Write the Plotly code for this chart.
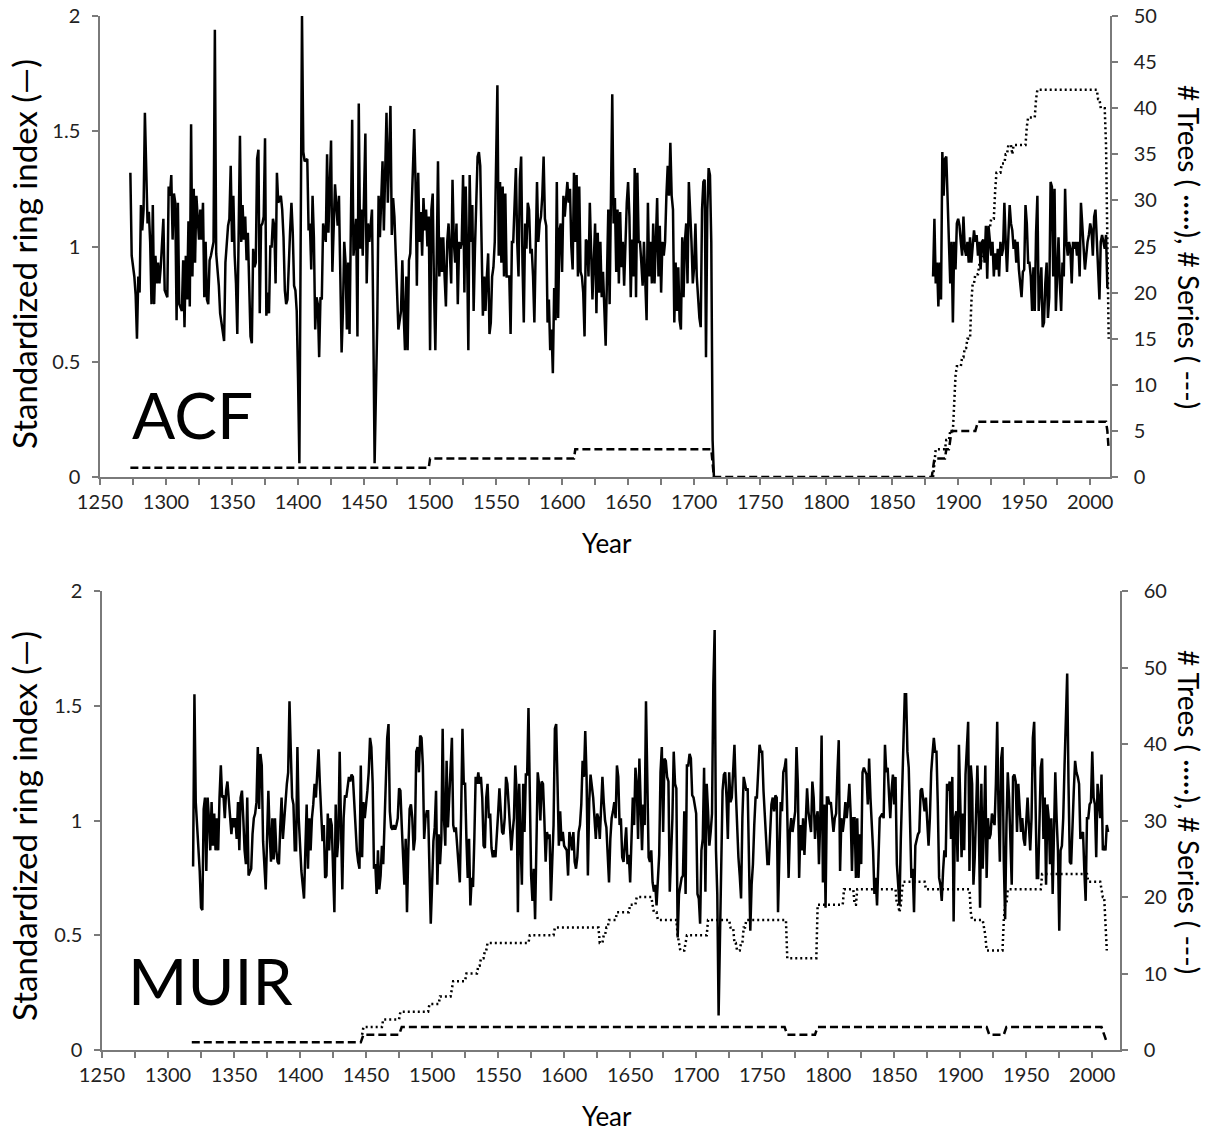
import plotly.graph_objects as go

# ---------------- ACF ring index ----------------
acf_years_a = [1273,1274,1276,1277,1278,1279,1280,1281,1282,1283,
               1284,1286,1287,1288,1289,1290,1291,1292,1293,1294,
               1295,1296,1298,1299,1301,1302,1303,1304,1305,1306,
               1307,1308,1309,1310,1312,1313,1314,1315,1316,1317,
               1318,1319,1320,1321,1322,1323,1325,1326,1327,1328,
               1329,1330,1331,1332,1333,1334,1336,1337,1338,1340,
               1341,1343,1344,1345,1347,1348,1349,1350,1351,1352,
               1353,1354,1355,1356,1357,1358,1359,1360,1361,1362,
               1364,1365,1366,1367,1368,1369,1370,1371,1372,1373,
               1374,1375,1376,1377,1378,1379,1380,1381,1382,1383,
               1384,1385,1387,1388,1389,1390,1391,1392,1394,1395,
               1396,1397,1398,1399,1400,1401,1403,1404,1405,1407,
               1408,1409,1410,1411,1412,1413,1414,1415,1416,1417]
acf_index_a = [1.32,0.96,0.87,0.79,0.60,0.87,0.80,1.18,1.07,1.16,
               1.58,1.10,1.15,1.02,0.75,1.18,0.75,0.96,0.84,0.93,
               0.84,0.91,1.12,0.81,0.78,1.26,1.22,1.31,1.03,1.23,
               1.19,0.68,1.19,0.75,0.72,0.94,0.65,0.96,0.77,1.11,
               0.74,1.53,0.87,1.25,0.93,1.22,1.03,1.16,1.03,1.19,
               0.78,1.02,0.77,0.75,0.94,0.96,1.02,1.94,0.97,0.83,
               0.71,0.64,0.59,0.93,1.09,1.12,1.35,1.02,1.22,0.96,
               0.84,0.62,1.22,1.48,1.02,1.18,1.03,1.13,0.94,1.06,
               0.61,0.58,0.99,0.91,0.93,1.38,1.42,0.71,1.09,1.10,
               1.13,1.47,0.70,0.80,0.71,1.00,1.00,1.12,1.09,0.84,
               1.32,1.19,1.22,1.16,1.04,0.81,0.75,0.77,1.07,1.19,
               1.06,0.83,0.81,0.72,0.43,0.06,2.00,1.41,1.37,1.38,
               1.07,1.10,0.90,1.22,1.04,0.64,0.78,0.75,0.52,0.78]

acf_years_b = [1418,1419,1421,1422,1423,1424,1425,1426,1427,1428,
               1430,1431,1433,1434,1435,1436,1437,1438,1439,1441,
               1442,1444,1445,1446,1447,1448,1449,1451,1452,1453,
               1454,1456,1457,1458,1460,1461,1462,1464,1465,1466,
               1467,1468,1470,1471,1472,1473,1474,1475,1476,1478,
               1479,1480,1481,1482,1483,1484,1485,1486,1488,1489,
               1490,1491,1492,1493,1494,1495,1496,1497,1498,1499,
               1500,1501,1502,1503,1504,1505,1506,1507,1508,1509,
               1510,1511,1512,1513,1514,1516,1517,1518,1519,1520,
               1521,1522,1523,1524,1525,1526,1527,1528,1529,1530,
               1531,1532,1533,1534,1535,1536,1537,1538,1539,1540,
               1541,1542,1543,1544,1545,1546,1547,1548,1549,1550,
               1551,1552,1553,1554,1555,1556,1557,1558,1560,1561,
               1562,1563,1564,1565,1566]
acf_index_b = [0.77,1.10,1.02,1.40,1.06,1.22,1.46,0.89,1.07,1.27,
               1.09,1.22,0.54,0.72,1.02,0.93,0.64,0.93,0.62,1.55,
               0.96,1.12,0.61,1.62,0.99,1.16,0.96,1.49,0.84,1.10,
               1.02,1.16,0.67,0.06,0.67,1.22,1.04,1.37,1.07,1.34,
               1.58,1.19,1.61,1.05,1.21,1.13,0.97,0.78,0.64,0.72,
               0.94,0.71,0.55,0.87,0.55,0.94,0.97,1.16,1.51,1.28,
               0.83,1.32,1.02,1.15,0.96,1.21,1.07,1.16,1.00,1.13,
               0.55,1.16,1.23,0.81,0.55,0.93,1.37,0.87,1.04,0.89,
               1.04,0.87,0.74,1.02,1.10,0.84,1.29,1.02,0.93,1.10,
               0.75,1.02,0.99,1.02,1.31,0.80,1.26,0.99,0.55,1.31,
               1.02,1.18,0.72,0.99,1.18,1.39,1.41,1.35,1.02,0.70,
               0.87,0.72,0.87,0.97,0.62,0.67,0.87,0.91,1.02,1.42,
               1.70,0.96,1.28,0.93,1.26,0.87,1.23,0.87,0.87,0.62,
               1.02,1.02,1.22,1.34,1.02]

acf_years_c = list(range(1567, 1624)) + list(range(1625, 1697)) + list(range(1698, 1716))
acf_index_c = [0.87,1.29,1.39,0.93,0.67,1.10,0.99,1.19,1.16,0.97,
               0.99,0.87,0.67,0.99,1.28,1.02,1.10,1.13,1.22,1.39,
               1.12,1.09,0.67,0.77,0.55,0.64,0.45,0.82,0.68,1.28,
               0.69,1.07,1.10,0.89,1.22,1.13,1.22,1.28,1.19,1.25,
               1.00,0.90,1.32,1.02,1.31,0.87,1.26,0.89,0.87,0.80,
               0.61,1.03,1.02,0.87,1.19,0.99,0.77,1.10,0.71,1.06,
               0.80,1.02,0.78,0.89,0.75,0.57,0.87,1.16,0.75,1.16,
               1.66,1.10,1.21,0.89,1.16,0.84,1.15,0.91,1.02,0.83,
               1.03,1.19,1.28,1.13,0.78,1.03,0.87,1.34,0.78,1.32,
               1.02,1.02,0.93,0.83,1.02,0.84,0.68,1.19,0.87,1.02,
               0.84,1.10,0.84,1.02,1.21,0.87,1.09,0.80,1.02,0.96,
               1.02,1.22,1.35,1.22,1.45,1.22,1.16,0.67,0.93,0.72,
               0.91,0.68,0.64,1.04,0.78,1.02,1.10,0.84,1.28,1.02,
               0.84,0.91,1.10,0.87,0.75,0.69,0.65,1.16,1.28,1.29,
               0.52,1.16,1.34,1.31,1.02,0.16,0.00]

acf_years_d = list(range(1881, 1924)) + list(range(1925, 1997)) + list(range(1998, 2014))
acf_index_d = [0.87,1.12,0.84,0.93,0.74,0.93,0.77,1.41,1.22,1.38,
               1.39,1.16,1.02,0.84,1.02,0.67,1.02,0.90,1.10,1.12,
               1.09,1.02,0.96,1.13,0.99,0.96,1.02,0.93,1.04,0.93,
               1.02,1.07,1.02,1.05,0.96,1.02,0.90,1.02,1.03,0.93,
               1.09,0.86,1.09,0.96,1.02,0.87,0.97,0.90,0.99,0.87,
               1.02,0.96,0.99,1.19,1.02,0.89,1.04,1.18,1.10,1.07,
               0.99,1.03,0.93,1.02,0.90,0.84,0.78,0.89,0.90,1.18,
               1.10,0.93,0.93,0.87,0.72,0.91,0.72,1.06,1.22,0.72,
               0.80,0.91,0.65,0.67,0.84,0.93,0.69,0.78,1.28,1.26,
               0.87,1.25,0.72,0.90,1.04,0.84,0.72,0.93,0.87,1.25,
               1.02,0.96,1.02,0.99,0.84,1.02,0.99,1.02,0.96,1.02,
               0.87,1.19,1.10,0.99,0.90,1.02,1.05,1.10,1.07,0.96,
               1.13,1.16,1.02,0.93,0.77,1.02,1.05,1.02,0.99,1.05,
               0.82]

# (first year, last year, count)
acf_series_runs = [(1273,1499,1),(1500,1609,2),(1610,1713,3),(1715,1880,0),
                   (1882,1890,2),(1891,1893,3),(1894,1894,4),(1895,1913,5),
                   (1915,2012,6),(2013,2013,5),(2014,2014,3)]
acf_tree_runs = [(1881,1881,0),(1882,1882,2),(1883,1890,3),(1891,1893,4),(1894,1896,5),
                 (1897,1897,8),(1898,1898,11),(1899,1902,12),(1903,1904,13),(1905,1906,14),
                 (1907,1909,15),(1910,1910,19),(1911,1912,21),(1913,1915,22),(1916,1917,23),
                 (1918,1919,24),(1920,1921,25),(1922,1922,26),(1923,1924,27),(1925,1927,28),
                 (1928,1928,31),(1929,1932,33),(1933,1935,34),(1936,1937,35),(1938,1940,36),
                 (1941,1941,35),(1942,1951,36),(1952,1952,38),(1953,1958,39),(1959,1959,41),
                 (1960,2005,42),(2006,2007,41),(2008,2011,40),(2012,2012,36),(2013,2013,25),
                 (2014,2014,15)]

# ---------------- MUIR ring index ----------------
muir_years_a = list(range(1319, 1362)) + list(range(1363, 1450)) + list(range(1451, 1493))
muir_index_a = [0.80,1.55,1.08,0.99,0.87,0.78,0.62,0.61,1.05,1.10,
                0.78,1.10,1.01,0.87,1.08,0.89,1.03,0.87,1.01,0.87,
                1.10,1.24,1.10,1.11,1.01,1.13,1.17,1.10,1.03,0.94,
                1.01,0.97,1.01,0.92,1.08,0.87,1.10,1.13,1.01,0.87,
                0.81,1.10,0.76,0.79,0.94,1.01,1.03,1.08,1.32,1.05,
                1.29,1.24,0.91,0.79,0.70,0.92,1.13,0.94,0.82,1.01,
                0.83,1.01,0.87,0.82,0.81,0.97,1.10,0.92,1.01,1.08,
                1.16,1.21,1.52,1.30,1.10,1.07,0.87,0.87,1.32,1.01,
                0.85,0.78,0.72,0.66,0.87,1.07,0.79,1.01,0.87,1.01,
                1.07,1.16,1.10,1.19,1.31,1.16,1.01,0.91,0.98,0.75,
                0.76,1.03,0.87,1.01,0.98,0.82,0.60,1.07,0.84,0.92,
                1.30,0.98,0.70,1.01,1.11,1.10,1.16,1.19,1.17,1.20,
                1.19,1.08,1.01,0.87,0.82,0.79,1.24,0.84,1.08,1.01,
                1.13,1.21,1.36,1.32,1.16,0.79,0.81,0.68,0.87,0.70,
                0.76,0.89,0.81,1.03,1.21,1.36,1.42,1.04,0.97,0.96,
                0.98,0.96,0.98,1.01,1.14,1.13,0.98,0.84,0.72,0.92,
                0.60,0.87,1.05,1.07,1.01,0.87,0.92,1.30,1.32,1.21,
                1.37,1.36]

muir_years_b = list(range(1493, 1514)) + list(range(1515, 1601)) + list(range(1602, 1671))
muir_index_b = [1.24,0.92,1.01,1.04,1.04,0.79,0.55,0.72,0.91,0.97,
                1.13,0.72,0.94,0.81,0.92,1.40,1.01,0.89,1.26,0.97,
                1.10,1.36,0.98,0.95,0.97,0.89,0.84,0.73,1.03,1.40,
                1.16,1.16,0.92,0.75,0.92,0.63,0.75,0.71,0.92,1.19,
                1.16,1.21,1.16,1.19,1.10,0.89,0.88,1.10,1.16,1.01,
                1.03,0.88,0.84,0.87,0.84,0.92,1.03,1.14,1.01,0.95,
                0.94,1.01,1.19,1.16,1.07,0.98,0.87,0.95,1.01,1.24,
                1.13,0.60,1.16,0.92,0.72,1.16,0.95,1.20,1.20,1.49,
                1.00,0.76,0.65,0.79,0.57,1.01,1.21,1.16,1.00,1.17,
                1.16,1.01,0.82,0.95,0.92,0.94,0.65,0.82,0.98,1.40,
                1.42,1.16,0.89,1.04,0.91,0.95,0.89,0.87,0.76,0.95,
                0.92,0.87,0.95,0.82,0.79,0.84,0.95,0.98,1.07,1.26,
                1.19,1.39,1.19,0.76,1.08,1.20,1.16,1.10,1.01,0.92,
                1.03,1.01,0.92,1.10,1.19,1.08,1.00,0.97,0.84,0.73,
                0.92,1.01,1.04,1.08,1.01,1.24,1.19,0.98,1.01,0.84,
                0.82,0.89,0.97,0.81,0.85,0.73,0.95,1.10,0.98,1.23,
                1.16,0.92,1.27,1.07,0.87,1.07,0.98,1.52,1.21,0.84,
                0.82,0.87,0.73,0.69,0.72,0.63]

muir_years_c = list(range(1672, 1753)) + list(range(1754, 1840)) + list(range(1841, 1849))
muir_index_c = [0.85,1.21,1.32,0.95,1.27,1.26,1.19,1.17,0.69,0.84,
                1.01,1.30,1.16,1.14,0.49,0.68,0.72,0.75,0.76,1.04,
                0.68,1.24,1.24,1.29,1.27,1.11,1.10,1.07,1.03,0.68,
                0.66,0.55,0.87,0.92,1.23,0.69,1.16,1.04,0.89,0.95,
                1.03,1.59,1.83,0.87,0.68,0.15,0.53,0.79,1.13,1.20,
                1.21,1.10,0.92,1.21,1.08,1.10,1.19,1.33,1.13,0.94,
                0.84,0.76,0.66,1.01,1.19,1.16,1.13,1.14,0.87,0.52,
                0.72,0.81,0.98,1.10,1.10,1.21,1.33,1.30,1.30,1.13,
                1.01,0.81,0.81,0.98,1.07,1.10,1.04,1.11,1.10,0.60,
                0.87,1.08,1.04,1.21,1.23,1.27,1.03,0.75,0.95,1.01,
                0.95,1.01,1.04,1.32,1.16,0.75,0.98,0.87,1.01,0.85,
                1.01,1.14,1.04,0.98,0.95,1.17,1.10,0.92,1.01,1.04,
                0.81,1.01,1.37,0.73,1.07,0.62,1.10,1.10,1.07,1.08,
                1.01,0.95,1.01,1.03,1.21,1.35,0.78,1.01,0.95,1.00,
                1.08,1.01,1.07,1.16,1.03,0.78,1.01,1.01,0.75,1.01,
                0.75,0.94,0.81,1.21,1.23,1.21,1.20,1.07,1.27,1.10,
                1.01,0.87,0.68,0.75,0.63,0.78,1.01,1.03,1.01,1.33,
                1.21,1.23,1.13,1.01,1.13]

muir_years_d = list(range(1849, 1905)) + list(range(1906, 1992)) + list(range(1993, 2013))
muir_index_d = [1.20,1.07,1.19,0.81,0.72,0.63,0.92,1.16,1.27,1.55,
                1.55,1.30,1.23,1.01,0.75,0.79,0.60,0.89,0.92,0.94,
                0.95,1.13,1.14,1.08,1.04,1.10,0.97,0.89,1.01,1.21,
                1.29,1.36,1.30,1.30,1.07,0.75,0.72,0.65,0.78,0.87,
                0.84,1.16,1.13,1.17,0.92,1.19,0.56,1.01,1.04,0.82,
                1.33,1.03,0.84,1.03,0.87,1.20,1.43,0.78,1.24,1.16,
                0.72,0.84,1.01,1.24,1.01,0.62,1.16,0.79,0.98,1.24,
                0.75,1.01,0.92,0.94,1.03,1.01,0.98,1.16,1.43,1.04,
                0.82,1.27,1.32,0.82,0.57,0.98,1.21,1.10,0.89,0.72,
                1.19,1.20,1.17,0.95,1.16,1.03,0.95,1.01,0.92,0.89,
                1.01,1.10,0.98,0.87,1.01,1.36,1.43,1.01,0.75,0.75,
                1.01,1.23,1.27,0.92,1.10,0.72,1.07,1.01,0.81,1.01,
                0.68,1.03,1.21,1.01,0.87,0.52,0.87,0.89,1.01,1.24,
                1.42,1.64,1.16,0.82,0.81,1.01,1.13,1.26,1.21,1.19,
                1.16,0.92,0.95,0.78,0.65,1.01,1.01,1.07,1.08,1.30,
                1.10,1.07,0.84,1.16,1.10,1.01,1.20,0.87,0.89,0.87,
                0.98,0.95]

muir_series_runs = [(1318,1446,1),(1448,1475,2),(1477,1767,3),(1769,1790,2),
                    (1792,1920,3),(1922,1933,2),(1935,2007,3),(2009,2009,2),(2011,2011,1)]
muir_tree_runs = [(1447,1447,2),(1448,1462,3),(1463,1475,4),(1476,1497,5),(1498,1505,6),
                  (1506,1514,7),(1515,1515,8),(1516,1525,9),(1526,1534,10),(1535,1536,11),
                  (1537,1539,12),(1540,1541,13),(1542,1573,14),(1574,1592,15),(1593,1626,16),
                  (1627,1629,14),(1630,1631,15),(1632,1633,16),(1634,1639,17),(1640,1649,18),
                  (1650,1654,19),(1655,1666,20),(1667,1667,19),(1668,1670,18),(1671,1685,17),
                  (1686,1686,15),(1687,1687,14),(1688,1691,13),(1692,1692,14),(1693,1708,15),
                  (1709,1725,17),(1726,1728,16),(1729,1730,14),(1731,1733,13),(1734,1735,14),
                  (1736,1737,16),(1738,1768,17),(1769,1791,12),(1792,1811,19),(1812,1819,21),
                  (1820,1821,19),(1822,1851,21),(1852,1853,19),(1854,1854,18),(1855,1855,19),
                  (1856,1856,21),(1857,1873,22),(1874,1907,21),(1908,1908,18),(1909,1917,17),
                  (1918,1918,16),(1919,1919,15),(1920,1932,13),(1933,1933,17),(1934,1935,19),
                  (1936,1961,21),(1962,1996,23),(1997,2006,22),(2007,2007,21),(2008,2009,20),
                  (2010,2010,16),(2011,2011,13)]

for yrs, vals in [(acf_years_a, acf_index_a), (acf_years_b, acf_index_b),
                  (acf_years_c, acf_index_c), (acf_years_d, acf_index_d),
                  (muir_years_a, muir_index_a), (muir_years_b, muir_index_b),
                  (muir_years_c, muir_index_c), (muir_years_d, muir_index_d)]:
    assert len(yrs) == len(vals), (len(yrs), len(vals), yrs[0])


def expand(runs):
    ys, vs = [], []
    for a, b, v in runs:
        for yr in range(a, b + 1):
            ys.append(yr)
            vs.append(v)
    return ys, vs


FONT = "Lato"
AX = "#7a7a7a"
BLACK = "#000000"
RING_W = 2.5

fig = go.Figure()

# ACF traces
acf_x = acf_years_a + acf_years_b + acf_years_c + [1716] + acf_years_d
acf_y = acf_index_a + acf_index_b + acf_index_c + [None] + acf_index_d
fig.add_trace(go.Scatter(x=acf_x, y=acf_y, mode="lines", line=dict(color=BLACK, width=RING_W),
                         xaxis="x", yaxis="y", connectgaps=False))
sx, sv = expand(acf_series_runs)
fig.add_trace(go.Scatter(x=sx, y=sv, mode="lines", line=dict(color=BLACK, width=2.5, dash="8px,4px"),
                         xaxis="x", yaxis="y2"))
tx, tv = expand(acf_tree_runs)
fig.add_trace(go.Scatter(x=tx, y=tv, mode="lines", line=dict(color=BLACK, width=2.5, dash="2px,3px"),
                         xaxis="x", yaxis="y2"))

# MUIR traces
muir_x = muir_years_a + muir_years_b + muir_years_c + muir_years_d
muir_y = muir_index_a + muir_index_b + muir_index_c + muir_index_d
fig.add_trace(go.Scatter(x=muir_x, y=muir_y, mode="lines", line=dict(color=BLACK, width=RING_W),
                         xaxis="x2", yaxis="y3"))
sx, sv = expand(muir_series_runs)
fig.add_trace(go.Scatter(x=sx, y=sv, mode="lines", line=dict(color=BLACK, width=2.5, dash="8px,4px"),
                         xaxis="x2", yaxis="y4"))
tx, tv = expand(muir_tree_runs)
fig.add_trace(go.Scatter(x=tx, y=tv, mode="lines", line=dict(color=BLACK, width=2.5, dash="2px,3px"),
                         xaxis="x2", yaxis="y4"))

W, H = 1208, 1135
def px(x):
    return x / W
def py(y):
    return 1 - y / H

tickfont = dict(family=FONT, size=20, color="#222222")
common_x = dict(tickmode="linear", tick0=1250, dtick=50, ticks="outside", ticklen=6, tickwidth=1.5,
                tickcolor=AX, showline=True, linecolor=AX, linewidth=1.5, showgrid=False,
                zeroline=False, tickfont=tickfont, automargin=False,
                minor=dict(tick0=1250, dtick=25, ticks="outside", ticklen=6, tickwidth=1.5, tickcolor=AX))
common_y = dict(ticks="outside", ticklen=6, tickwidth=1.5, tickcolor=AX, showline=True, linecolor=AX,
                linewidth=1.5, showgrid=False, zeroline=False, tickfont=tickfont, automargin=False)

top_dom_y = [py(477), py(16)]
bot_dom_y = [py(1050), py(591)]

fig.update_layout(
    width=W, height=H, margin=dict(l=0, r=0, t=0, b=0, pad=0, autoexpand=False),
    showlegend=False, plot_bgcolor="white", paper_bgcolor="white",
    xaxis=dict(domain=[px(100), px(1110)], anchor="y", range=[1250, 2015], **common_x),
    yaxis=dict(domain=top_dom_y, anchor="x", range=[0, 2], tickmode="linear", tick0=0, dtick=0.5,
               ticklabelstandoff=8, **common_y),
    yaxis2=dict(overlaying="y", side="right", anchor="x", range=[0, 50], tickmode="linear", tick0=0, dtick=5,
                ticklabelstandoff=12, **common_y),
    xaxis2=dict(domain=[px(102), px(1120)], anchor="y3", range=[1250, 2021], **common_x),
    yaxis3=dict(domain=bot_dom_y, anchor="x2", range=[0, 2], tickmode="linear", tick0=0, dtick=0.5,
                ticklabelstandoff=8, **common_y),
    yaxis4=dict(overlaying="y3", side="right", anchor="x2", range=[0, 60], tickmode="linear", tick0=0, dtick=10,
                ticklabelstandoff=12, **common_y),
)

ann = []
def add(text, x, y, size, angle=0, xanchor="center", yanchor="middle"):
    ann.append(dict(text=text, x=x, y=y, xref="paper", yref="paper", showarrow=False,
                    textangle=angle, xanchor=xanchor, yanchor=yanchor,
                    font=dict(family=FONT, size=size, color=BLACK)))

add("ACF", px(130), py(414), 64, xanchor="left")
add("MUIR", px(126), py(980), 64, xanchor="left")
add("Standardized ring index (\u2014)", px(24), py(254), 33, angle=-90)
add("Standardized ring index (\u2014)", px(24), py(826), 33, angle=-90)
add("# Trees ( \u00b7\u00b7\u00b7\u00b7\u00b7), # Series ( ---)", px(1189), py(247), 28, angle=90)
add("# Trees ( \u00b7\u00b7\u00b7\u00b7\u00b7), # Series ( ---)", px(1189), py(812), 28, angle=90)
add("Year", px(607), py(543), 26)
add("Year", px(607), py(1116), 26)
fig.update_layout(annotations=ann)

fig.write_html("out.html")
